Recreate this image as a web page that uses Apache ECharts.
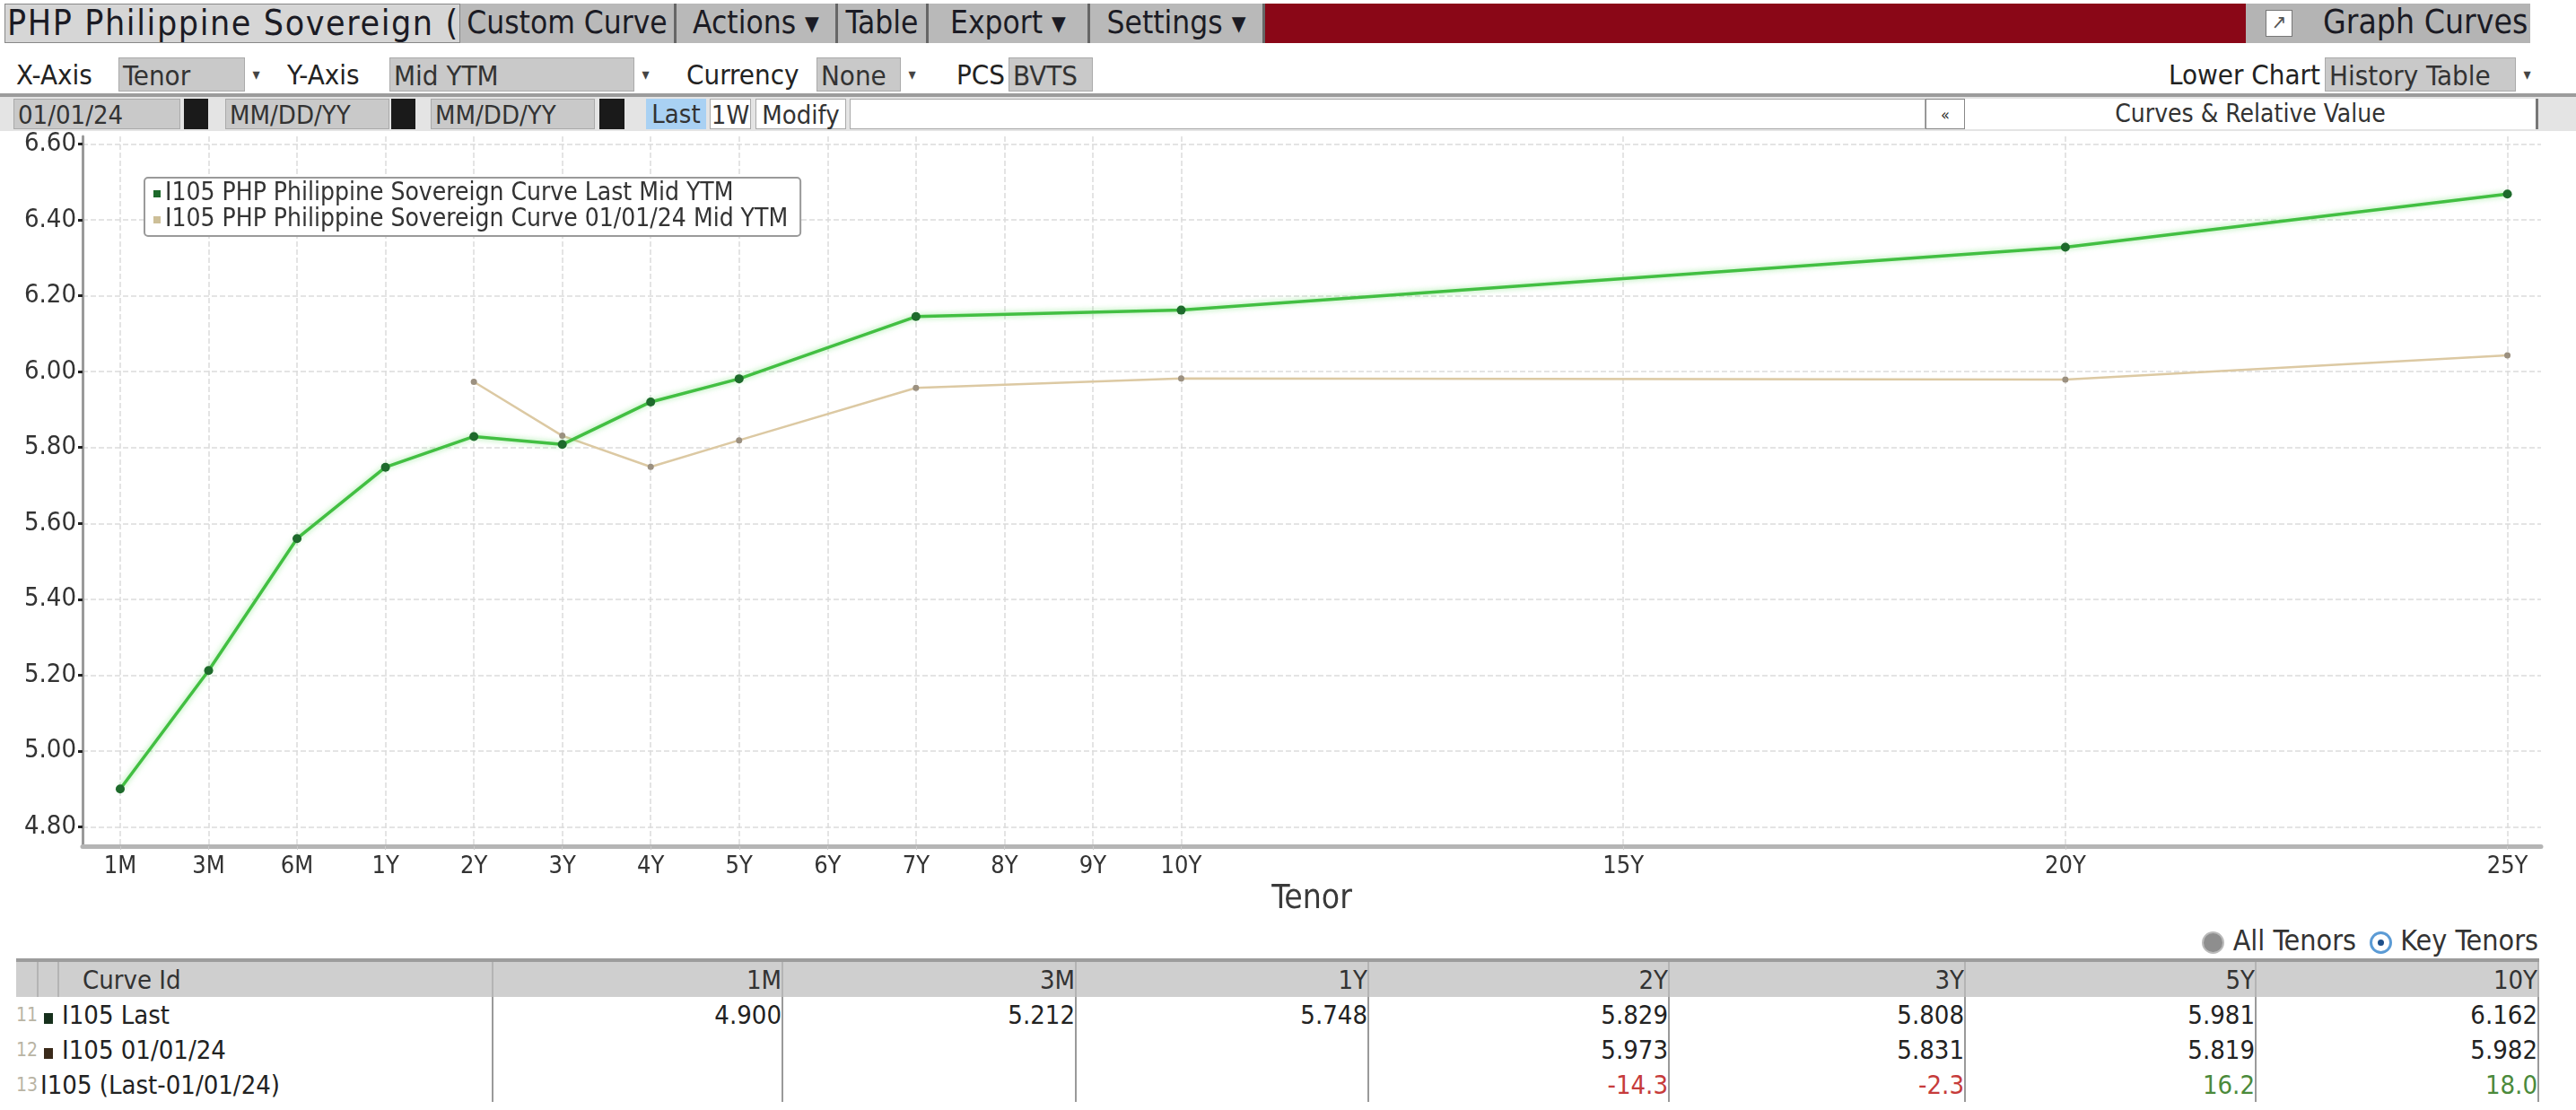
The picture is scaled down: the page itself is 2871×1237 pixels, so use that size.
<!DOCTYPE html>
<html>
<head>
<meta charset="utf-8">
<script src="https://cdn.jsdelivr.net/npm/echarts@6.0.0/dist/echarts.min.js"></script>
<style>
  html, body { margin: 0; padding: 0; background: #fff; }
  body {
    width: 2871px; height: 1237px; position: relative; overflow: hidden;
    font-family: "DejaVu Sans Condensed", "Liberation Sans Narrow", "Liberation Sans", sans-serif;
    color: #222;
  }
  .a { position: absolute; box-sizing: border-box; white-space: nowrap; }
  /* barre du haut */
  .top { top: 4px; height: 44px; line-height: 42px; font-size: 35px; color: #1b1b24; }
  .btn { background: #b9b9b9; border-right: 3px solid #666; text-align: center; }
  /* ligne 2 */
  .r2 { top: 64px; height: 38px; line-height: 38px; font-size: 31px; color: #222; }
  .fld { background: #c9c9c9; border: 1px solid #aaa; padding-left: 4px; color: #333; }
  .dd { background: #fff; border-left: 1px solid #aaa; text-align: center; font-size: 18px; color: #444; }
  /* ligne 3 */
  .r3 { top: 110px; height: 34px; line-height: 34px; font-size: 29px; color: #333; }
  .blk { background: #1a1a1a; }
  #chart { position: absolute; left: 0; top: 146px; width: 2871px; height: 880px; }
  table { border-collapse: collapse; table-layout: fixed; font-size: 29px; }
  td { height: 39px; padding: 0; white-space: nowrap; overflow: hidden; }
  thead td { background: #cfcfcf; border-top: 4px solid #9c9c9c; border-right: 2px solid #b4b4b4; color: #333; }
  tbody td.v { text-align: right; border-right: 2px solid #9a9a9a; color: #222; }
  .num { color: #b9b4a4; font-size: 21px; }
  .neg { color: #c63b3b !important; }
  .pos { color: #4b8a3b !important; }
</style>
</head>
<body>

<!-- barre de titre -->
<div class="a top" style="left:5px;width:508px;background:#d6d6d6;border:1px solid #888;padding-left:2px;font-size:39px;letter-spacing:1.6px;">PHP Philippine Sovereign (</div>
<div class="a top btn" style="left:513px;width:241px;">Custom Curve</div>
<div class="a top btn" style="left:754px;width:180px;">Actions ▾</div>
<div class="a top btn" style="left:934px;width:101px;">Table</div>
<div class="a top btn" style="left:1035px;width:180px;">Export ▾</div>
<div class="a top btn" style="left:1215px;width:195px;">Settings ▾</div>
<div class="a top" style="left:1410px;width:1093px;background:#8a0717;"></div>
<div class="a top" style="left:2503px;width:317px;background:#b4b4b4;">
  <span class="a" style="left:22px;top:7px;width:30px;height:30px;background:#fff;border:1px solid #777;line-height:26px;font-size:22px;text-align:center;color:#555;">↗</span>
  <span class="a" style="left:86px;top:0;font-size:37px;">Graph Curves</span>
</div>

<!-- ligne des axes -->
<div class="a r2" style="left:18px;">X-Axis</div>
<div class="a r2 fld" style="left:132px;width:166px;">Tenor</div>
<div class="a r2 dd" style="left:272px;width:26px;">▾</div>
<div class="a r2" style="left:320px;">Y-Axis</div>
<div class="a r2 fld" style="left:434px;width:298px;">Mid YTM</div>
<div class="a r2 dd" style="left:706px;width:26px;">▾</div>
<div class="a r2" style="left:765px;">Currency</div>
<div class="a r2 fld" style="left:910px;width:119px;">None</div>
<div class="a r2 dd" style="left:1003px;width:26px;">▾</div>
<div class="a r2" style="left:1066px;">PCS</div>
<div class="a r2 fld" style="left:1124px;width:94px;">BVTS</div>
<div class="a r2" style="left:2380px;width:206px;text-align:right;">Lower Chart</div>
<div class="a r2 fld" style="left:2591px;width:238px;">History Table</div>
<div class="a r2 dd" style="left:2803px;width:26px;">▾</div>

<!-- ligne des dates -->
<div class="a" style="left:0;top:104px;width:2871px;height:42px;background:#e4e4e4;border-top:4px solid #9c9c9c;"></div>
<div class="a r3 fld" style="left:15px;width:186px;">01/01/24</div>
<div class="a r3 blk" style="left:205px;width:27px;"></div>
<div class="a r3 fld" style="left:251px;width:183px;">MM/DD/YY</div>
<div class="a r3 blk" style="left:436px;width:27px;"></div>
<div class="a r3 fld" style="left:480px;width:183px;">MM/DD/YY</div>
<div class="a r3 blk" style="left:668px;width:28px;"></div>
<div class="a r3" style="left:720px;width:67px;background:#a9d1f3;text-align:center;">Last</div>
<div class="a r3" style="left:791px;width:46px;background:#fff;border:1px solid #aaa;text-align:center;">1W</div>
<div class="a r3" style="left:842px;width:101px;background:#fff;border:1px solid #aaa;text-align:center;">Modify</div>
<div class="a r3" style="left:947px;width:1199px;background:#fff;border:1px solid #aaa;"></div>
<div class="a r3" style="left:2146px;width:44px;background:#fff;border:1px solid #888;text-align:center;font-size:18px;">«</div>
<div class="a r3" style="left:2190px;width:639px;background:#fff;border-right:3px solid #777;text-align:center;font-size:28px;">Curves &amp; Relative Value</div>

<div id="chart"></div>

<!-- choix des tenors -->
<div class="a" style="right:42px;top:1028px;height:40px;line-height:40px;font-size:32px;color:#333;">
  <span style="display:inline-block;width:25px;height:25px;border-radius:50%;background:#8e8e8e;border:2px solid #bbb;vertical-align:-4px;box-sizing:border-box;"></span> All Tenors
  <span style="display:inline-block;width:25px;height:25px;border-radius:50%;background:#fff;border:3px solid #5b9bd5;vertical-align:-4px;margin-left:6px;box-sizing:border-box;position:relative;"><span style="position:absolute;left:6px;top:6px;width:7px;height:7px;border-radius:50%;background:#1d4f8a;"></span></span> Key Tenors
</div>

<table class="a" id="tbl" style="left:18px;top:1068px;width:2811px;">
  <colgroup>
    <col style="width:24px"><col style="width:23px"><col style="width:484px">
    <col style="width:323px"><col style="width:327px"><col style="width:326px"><col style="width:335px">
    <col style="width:330px"><col style="width:324px"><col style="width:315px">
  </colgroup>
  <thead><tr id="hdr"><td></td><td></td><td style="padding-left:26px;">Curve Id</td></tr></thead>
  <tbody id="body"></tbody>
</table>

<script>
// tenors de l'axe X (1M..10Y régulier, puis 15Y/20Y/25Y espacés de 5)
const tenorLabels = ['1M', '3M', '6M', '1Y', '2Y', '3Y', '4Y', '5Y', '6Y', '7Y', '8Y', '9Y', '10Y', '15Y', '20Y', '25Y']
const tenorPos = [0, 1, 2, 3, 4, 5, 6, 7, 8, 9, 10, 11, 12, 17, 22, 27]

// courbes Mid YTM
const lastYtm = [4.900, 5.212, 5.56, 5.748, 5.829, 5.808, 5.92, 5.981, null, 6.145, null, null, 6.162, null, 6.328, 6.468]
const jan24Ytm = [null, null, null, null, 5.973, 5.831, 5.749, 5.819, null, 5.957, null, null, 5.982, null, 5.979, 6.043]

const yTicks = [4.8, 5.0, 5.2, 5.4, 5.6, 5.8, 6.0, 6.2, 6.4, 6.6]

// tableau du bas
const keyTenors = ['1M', '3M', '1Y', '2Y', '3Y', '5Y', '10Y']
const diffBp = [null, null, null, -14.3, -2.3, 16.2, 18.0]

const nameLast = 'I105 PHP Philippine Sovereign Curve Last Mid YTM'
const nameJan = 'I105 PHP Philippine Sovereign Curve 01/01/24 Mid YTM'
const font = '"DejaVu Sans Condensed", "Liberation Sans Narrow", "Liberation Sans", sans-serif'

const toPoints = arr => tenorPos.map((x, i) => [x, arr[i]]).filter(p => p[1] != null)

const mChart = echarts.init(document.getElementById('chart'))
const options = {
  animation: false,
  textStyle: { fontFamily: font },
  grid: { left: 92, right: 39, top: 4, height: 802 },
  legend: {
    orient: 'vertical',
    left: 161,
    top: 52,
    padding: [4, 14, 4, 10],
    itemGap: 1,
    itemWidth: 8,
    itemHeight: 8,
    icon: 'rect',
    backgroundColor: '#fff',
    borderColor: '#9a9a9a',
    borderWidth: 2,
    borderRadius: 4,
    textStyle: { fontSize: 28, color: '#333', fontFamily: font },
    data: [
      { name: nameLast, itemStyle: { color: '#1d6a2b' } },
      { name: nameJan, itemStyle: { color: '#cdbf98' } }
    ]
  },
  xAxis: {
    type: 'value',
    min: -0.426,
    max: 27.38,
    name: 'Tenor',
    nameLocation: 'middle',
    nameGap: 34,
    nameTextStyle: { fontSize: 37, color: '#3a3a3a', fontFamily: font },
    axisLine: { lineStyle: { color: '#b5b5b5', width: 5 } },
    axisTick: { show: true, customValues: tenorPos, length: 4, lineStyle: { color: '#ccc' } },
    axisLabel: {
      customValues: tenorPos,
      formatter: v => tenorLabels[tenorPos.indexOf(v)],
      fontSize: 27,
      color: '#333',
      margin: 9
    },
    splitLine: { show: true, lineStyle: { color: '#dcdcdc', type: 'dashed', width: 1.5 } }
  },
  yAxis: {
    type: 'value',
    min: 4.749,
    max: 6.62,
    axisLine: { show: true, onZero: false, lineStyle: { color: '#9a9a9a', width: 3 } },
    axisTick: { show: true, customValues: yTicks, length: 5, lineStyle: { color: '#222', width: 3 } },
    axisLabel: {
      customValues: yTicks,
      formatter: v => v.toFixed(2),
      fontSize: 29,
      color: '#333',
      margin: 7
    },
    splitLine: { show: true, lineStyle: { color: '#dcdcdc', type: 'dashed', width: 1.5 } }
  },
  series: [
    {
      name: nameLast,
      type: 'line',
      data: toPoints(lastYtm),
      symbol: 'circle',
      symbolSize: 10,
      lineStyle: { color: '#42bf42', width: 3.5, shadowColor: 'rgba(90,220,90,0.6)', shadowBlur: 6 },
      itemStyle: { color: '#1d6a2b' },
      z: 3
    },
    {
      name: nameJan,
      type: 'line',
      data: toPoints(jan24Ytm),
      symbol: 'circle',
      symbolSize: 7,
      lineStyle: { color: '#dcc9a3', width: 2.5 },
      itemStyle: { color: '#9b9080' },
      z: 2
    }
  ]
}
mChart.setOption(options)

// construction du tableau à partir des mêmes tableaux
const valueAt = (arr, t) => arr[tenorLabels.indexOf(t)]
const hdr = document.getElementById('hdr')
keyTenors.forEach(t => {
  const td = document.createElement('td')
  td.style.textAlign = 'right'
  td.textContent = t
  hdr.appendChild(td)
})
const body = document.getElementById('body')
const rows = [
  { num: '11)', sq: '#16301c', label: 'I105 Last', vals: keyTenors.map(t => valueAt(lastYtm, t)), fmt: v => v.toFixed(3) },
  { num: '12)', sq: '#3a2a1a', label: 'I105 01/01/24', vals: keyTenors.map(t => valueAt(jan24Ytm, t)), fmt: v => v.toFixed(3) },
  { num: '13)', sq: null, label: 'I105 (Last-01/01/24)', vals: diffBp, fmt: v => v.toFixed(1) }
]
rows.forEach((r, ri) => {
  const tr = document.createElement('tr')
  let html = '<td class="num">' + r.num + '</td>'
  if (r.sq) {
    html += '<td style="text-align:center;"><span style="display:inline-block;width:10px;height:12px;background:' + r.sq + ';"></span></td>'
    html += '<td style="padding-left:4px;border-right:2px solid #9a9a9a;">' + r.label + '</td>'
  } else {
    html += '<td colspan="2" style="padding-left:3px;border-right:2px solid #9a9a9a;">' + r.label + '</td>'
  }
  r.vals.forEach(v => {
    // couleur de l'écart en bp
    let cls = 'v'
    if (ri === 2 && v != null) cls += v < 0 ? ' neg' : ' pos'
    html += '<td class="' + cls + '">' + (v == null ? '' : r.fmt(v)) + '</td>'
  })
  tr.innerHTML = html
  body.appendChild(tr)
})
</script>
</body>
</html>
